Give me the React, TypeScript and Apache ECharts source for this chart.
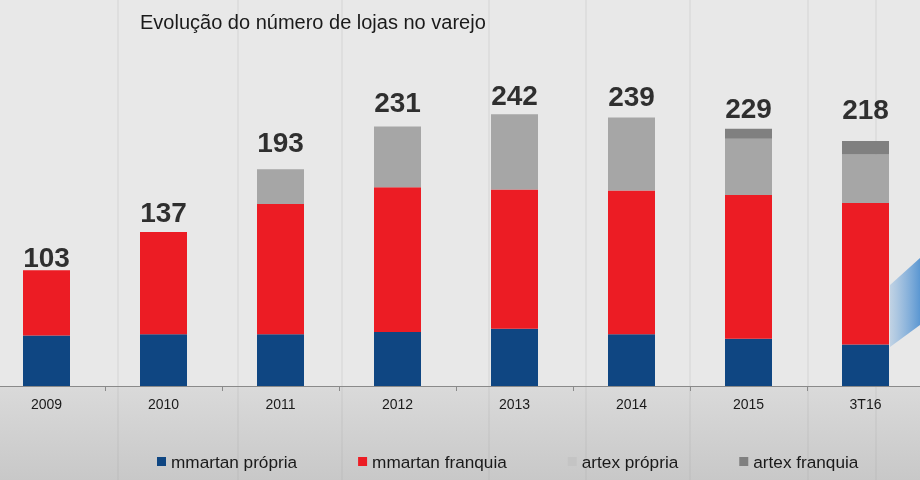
import React, { useEffect, useRef } from "react";
import * as echarts from "echarts";

const categories = ["2009", "2010", "2011", "2012", "2013", "2014", "2015", "3T16"];
const mmartanPropria = [45, 46, 46, 48, 51, 46, 42, 37];
const mmartanFranquia = [58, 91, 116, 129, 124, 128, 128, 126];
const artexPropria = [0, 0, 31, 54, 67, 65, 50, 43];
const artexFranquia = [0, 0, 0, 0, 0, 0, 9, 12];
const seriesNames = ["mmartan própria", "mmartan franquia", "artex própria", "artex franquia"];
const titleText = "Evolução do número de lojas no varejo";

// styling: gap (px) between each total label and its bar
const labelGaps = [3, 10, 17, 14, 9, 11, 10, 22];
const colors = ["#0F4682", "#EC1C24", "#A6A6A6", "#808080"];
const legendIconColors = ["#0F4682", "#EC1C24", "#C4C4C4", "#808080"];
const FONT = "'Liberation Sans', Arial, sans-serif";
// the chart canvas is shifted left so the category bands line up with the page
const SHIFT = 12;

export default function App() {
  const ref = useRef<HTMLDivElement>(null);
  useEffect(() => {
    if (!ref.current) return;
    const chart = echarts.init(ref.current, null, { renderer: "svg" });
    const values = [mmartanPropria, mmartanFranquia, artexPropria, artexFranquia];
    const totals = categories.map((_, i) => values.reduce((s, arr) => s + arr[i], 0));

    const planks = [118, 238, 342, 489, 586, 690, 808, 876];

    const option: any = {
      animation: false,
      backgroundColor: "transparent",
      title: {
        text: titleText,
        left: 135 + SHIFT,
        top: 7,
        textStyle: { fontFamily: FONT, fontSize: 20, fontWeight: "normal", color: "#1a1a1a" },
      },
      graphic: [
        {
          type: "rect",
          z: -10,
          silent: true,
          shape: { x: 0, y: 0, width: 940, height: 386 },
          style: { fill: "#E8E8E8" },
        },
        {
          type: "rect",
          z: -10,
          silent: true,
          shape: { x: 0, y: 386, width: 940, height: 94 },
          style: {
            fill: new echarts.graphic.LinearGradient(0, 0, 0, 1, [
              { offset: 0, color: "#DADADA" },
              { offset: 1, color: "#C8C8C8" },
            ]),
          },
        },
        ...planks.map((x) => ({
          type: "line",
          z: -9,
          silent: true,
          shape: { x1: x + SHIFT, y1: 0, x2: x + SHIFT, y2: 480 },
          style: { stroke: "rgba(150,150,150,0.22)", lineWidth: 1 },
        })),
        {
          type: "polygon",
          z: -5,
          silent: true,
          shape: {
            points: [
              [890 + SHIFT, 285],
              [920 + SHIFT, 258],
              [920 + SHIFT, 325],
              [890 + SHIFT, 347],
            ],
          },
          style: {
            fill: new echarts.graphic.LinearGradient(0, 0, 1, 0, [
              { offset: 0, color: "rgba(120,170,220,0.35)" },
              { offset: 1, color: "#5B97D2" },
            ]),
          },
        },
      ],
      legend: {
        left: 152 + SHIFT,
        top: 448,
        itemWidth: 9,
        itemHeight: 9,
        itemGap: 61,
        icon: "rect",
        textStyle: { fontFamily: FONT, fontSize: 17.2, color: "#1a1a1a" },
        data: seriesNames.map((n, i) => ({ name: n, itemStyle: { color: legendIconColors[i] } })),
      },
      grid: { left: 0, right: 0, top: 49, bottom: 94 },
      xAxis: {
        type: "category",
        data: categories,
        axisLine: { show: true, lineStyle: { color: "#8A8A8A", width: 1 } },
        axisTick: { show: true, interval: 0, length: 5, lineStyle: { color: "#8A8A8A" } },
        axisLabel: { fontFamily: FONT, fontSize: 14, color: "#1a1a1a", margin: 11 },
      },
      yAxis: { type: "value", min: 0, max: 300, show: false, splitLine: { show: false } },
      series: [
        ...values.map((arr, i) => ({
          name: seriesNames[i],
          type: "bar",
          stack: "lojas",
          barWidth: 47,
          itemStyle: { color: colors[i] },
          data: arr,
        })),
        {
          name: "total",
          type: "scatter",
          symbolSize: 0,
          silent: true,
          z: 5,
          data: totals.map((t, i) => ({
            value: t,
            label: { distance: labelGaps[i] - 4 },
          })),
          label: {
            show: true,
            position: "top",
            formatter: (p: any) => String(totals[p.dataIndex]),
            fontFamily: FONT,
            fontSize: 28,
            fontWeight: "bold",
            color: "#000000",
          },
        },
      ],
    };
    chart.setOption(option);
    return () => chart.dispose();
  }, []);
  return (
    <div
      ref={ref}
      style={{ position: "fixed", left: -SHIFT, top: 0, width: 936, height: 480 }}
    />
  );
}
